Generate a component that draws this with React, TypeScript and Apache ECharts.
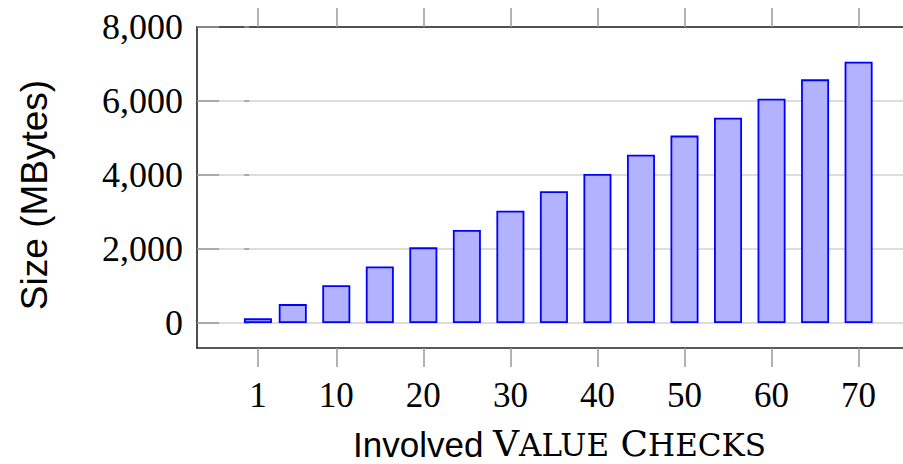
import React, { useEffect, useRef } from "react";
import * as echarts from "echarts";

const xValues = [1, 5, 10, 15, 20, 25, 30, 35, 40, 45, 50, 55, 60, 65, 70];
const sizes = [125, 510, 1020, 1530, 2045, 2515, 3035, 3560, 4030, 4550, 5065, 5550, 6060, 6585, 7060];
const xTickLabels = [1, 10, 20, 30, 40, 50, 60, 70];
const yTickLabels = [0, 2000, 4000, 6000, 8000];
const xTitleParts = [
  { text: "Involved ", font: "Liberation Sans", size: 35 },
  { text: "V", font: "DejaVu Serif", size: 36 },
  { text: "ALUE", font: "DejaVu Serif", size: 31 },
  { text: " C", font: "DejaVu Serif", size: 36 },
  { text: "HECKS", font: "DejaVu Serif", size: 31 },
];

const fmt = (v: number) => String(v).replace(/\B(?=(\d{3})+(?!\d))/g, ",");

export default function App() {
  const ref = useRef<HTMLDivElement>(null);
  useEffect(() => {
    if (!ref.current) return;
    const chart = echarts.init(ref.current, undefined, { renderer: "svg" });
    const axisLine = { show: true, onZero: false, lineStyle: { color: "#222", width: 1.6 } };
    const xTick = { show: true, inside: false, length: 19, customValues: xTickLabels, lineStyle: { color: "#999", width: 1.5 } };
    const yTick = { show: true, inside: true, length: 22, customValues: yTickLabels, lineStyle: { color: "#999", width: 1.5 } };

    const ctx = document.createElement("canvas").getContext("2d");
    const baseline = 456;
    let cx = 353;
    const titleEls: any[] = [];
    xTitleParts.forEach((p) => {
      let w = p.size * 0.6 * p.text.length;
      if (ctx) {
        ctx.font = `${p.size}px "${p.font}"`;
        w = ctx.measureText(p.text).width;
      }
      titleEls.push({
        type: "text", x: cx, y: baseline - 0.34 * p.size,
        style: { text: p.text, fontFamily: p.font, fontSize: p.size, lineHeight: p.size, fill: "#000", align: "left", verticalAlign: "middle" },
      });
      cx += w;
    });

    chart.setOption({
      animation: false,
      grid: { left: 197, right: 0, top: 27, bottom: 116, containLabel: false },
      xAxis: [
        {
          type: "value", position: "bottom", min: -6, max: 75.1,
          axisLine, axisTick: xTick,
          axisLabel: { customValues: xTickLabels, margin: 30, fontFamily: "Liberation Serif", fontSize: 35, color: "#000" },
          splitLine: { show: false },
        },
        {
          type: "value", position: "top", min: -6, max: 75.1,
          axisLine, axisTick: xTick,
          axisLabel: { show: false },
          splitLine: { show: false },
        },
      ],
      yAxis: [
        {
          type: "value", position: "left", min: -676, max: 8000,
          axisLine, axisTick: yTick,
          axisLabel: { customValues: yTickLabels, formatter: (v: number) => fmt(v), margin: 14, fontFamily: "Liberation Serif", fontSize: 36, color: "#000" },
          splitLine: { show: true, lineStyle: { color: "#d2d2d2", width: 1.5 } },
        },
        {
          type: "value", position: "right", min: -676, max: 8000,
          axisLine: { show: false },
          axisTick: { ...yTick, length: 5 },
          axisLabel: { show: false },
          splitLine: { show: false },
        },
      ],
      series: [
        {
          type: "bar",
          xAxisIndex: 0, yAxisIndex: 0,
          barWidth: 28,
          data: xValues.map((x, i) => [x, sizes[i]]),
          itemStyle: { color: "rgb(178,178,255)", borderColor: "#0000ff", borderWidth: 1.8 },
        },
      ],
      graphic: [
        {
          type: "text", x: 34, y: 195, rotation: Math.PI / 2,
          style: { text: "Size (MBytes)", fontFamily: "Liberation Sans", fontSize: 37, fill: "#000", align: "center", verticalAlign: "middle" },
        },
        ...titleEls,
      ],
    });
    return () => chart.dispose();
  }, []);
  return <div ref={ref} style={{ position: "absolute", left: 0, top: 0, width: 903, height: 464 }} />;
}
